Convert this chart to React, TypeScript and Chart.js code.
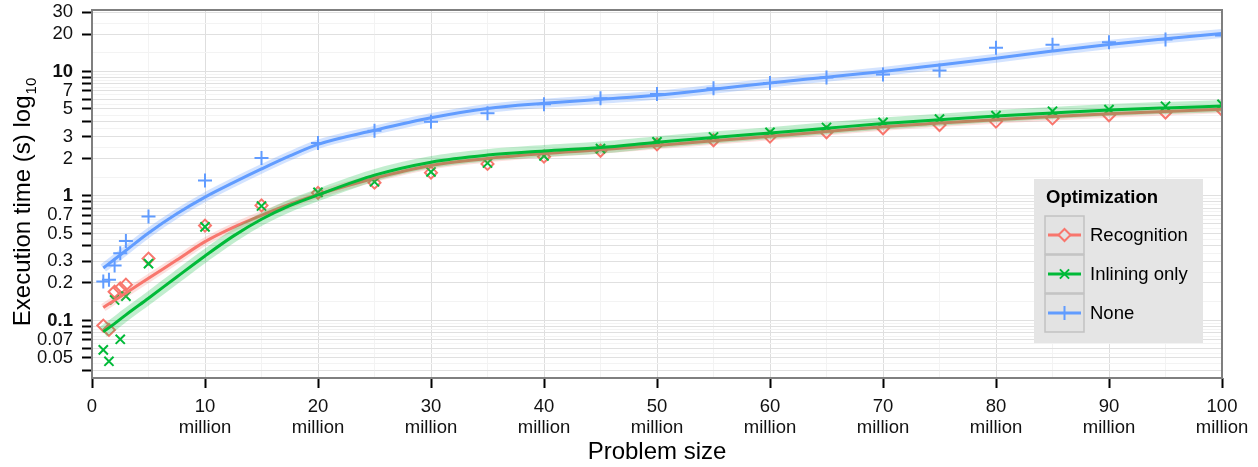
import React, { useEffect, useRef } from 'react';
import { Chart, registerables } from 'chart.js';

Chart.register(...registerables);

const FONT = '"Liberation Sans", Arial, Helvetica, sans-serif';

// ---- Data ----
const problemSizes = [1, 1.5, 2, 2.5, 3, 5, 10, 15, 20, 25, 30, 35, 40, 45, 50, 55, 60, 65, 70, 75, 80, 85, 90, 95, 100];
const recognition = [0.091, 0.084, 0.17, 0.181, 0.194, 0.314, 0.578, 0.84, 1.06, 1.28, 1.54, 1.81, 2.07, 2.31, 2.6, 2.8, 3.0, 3.25, 3.5, 3.72, 3.96, 4.2, 4.45, 4.68, 4.93];
const inliningOnly = [0.058, 0.047, 0.146, 0.0706, 0.157, 0.286, 0.565, 0.83, 1.07, 1.3, 1.56, 1.84, 2.1, 2.4, 2.72, 2.98, 3.25, 3.55, 3.9, 4.15, 4.42, 4.8, 4.95, 5.26, 5.45];
const none = [0.206, 0.212, 0.277, 0.347, 0.435, 0.685, 1.33, 2.02, 2.67, 3.35, 3.95, 4.62, 5.45, 6.09, 6.59, 7.35, 8.1, 8.95, 9.45, 10.2, 15.5, 16.4, 17.2, 18.1, 19.5];

const fitSizes = [1, 2, 3, 5, 7.5, 10, 12.5, 15, 17.5, 20, 25, 30, 35, 40, 45, 50, 55, 60, 65, 70, 75, 80, 85, 90, 95, 100];
const recognitionFit = [0.127, 0.1455, 0.166, 0.218, 0.306, 0.43, 0.56, 0.7, 0.86, 1.03, 1.39, 1.76, 2.0, 2.19, 2.35, 2.55, 2.78, 3.02, 3.3, 3.6, 3.85, 4.1, 4.35, 4.57, 4.78, 4.98];
const inliningFit = [0.081, 0.0944, 0.111, 0.151, 0.2236, 0.33, 0.476, 0.65, 0.836, 1.02, 1.47, 1.87, 2.13, 2.3, 2.45, 2.7, 2.95, 3.2, 3.5, 3.82, 4.1, 4.4, 4.65, 4.9, 5.1, 5.28];
const noneFit = [0.264, 0.31, 0.365, 0.505, 0.72, 0.98, 1.28, 1.65, 2.1, 2.6, 3.37, 4.25, 5.05, 5.55, 5.98, 6.45, 7.2, 8.1, 9.0, 10.0, 11.3, 12.8, 14.6, 16.5, 18.3, 20.2];

const seriesNames = ['Recognition', 'Inlining only', 'None'];

const yTickValues = [0.04, 0.05, 0.06, 0.07, 0.08, 0.09, 0.1, 0.2, 0.3, 0.4, 0.5, 0.6, 0.7, 0.8, 0.9, 1, 2, 3, 4, 5, 6, 7, 8, 9, 10, 20, 30];
const yTickLabels = [0.05, 0.07, 0.1, 0.2, 0.3, 0.5, 0.7, 1, 2, 3, 5, 7, 10, 20, 30];
const yBoldLabels = [0.1, 1, 10];
const xTickValues = [0, 10, 20, 30, 40, 50, 60, 70, 80, 90, 100];
const xMinorValues = [5, 15, 25, 35, 45, 55, 65, 75, 85, 95];

const xTitle = 'Problem size';
const yTitle = 'Execution time (s) log';
const yTitleSub = '10';
const legendTitle = 'Optimization';

// ---- Styles ----
const COLORS = ['#F8766D', '#00BA38', '#619CFF'];
const RIBBONS = ['rgba(248,118,109,0.22)', 'rgba(0,186,56,0.24)', 'rgba(97,156,255,0.28)'];
const RIBBON_W = [8, 12, 9];
const SHAPES = ['rectRot', 'crossRot', 'cross'];
const RADII = [6, 6.5, 7];

const pts = (xs: number[], ys: number[]) => xs.map((x, i) => ({ x, y: ys[i] }));

function buildYTicks() {
  const out: any[] = [];
  for (let i = 0; i < yTickValues.length; i++) {
    out.push({ value: yTickValues[i], isMinor: false });
    if (i < yTickValues.length - 1) {
      out.push({ value: Math.sqrt(yTickValues[i] * yTickValues[i + 1]), isMinor: true });
    }
  }
  return out.sort((a, b) => a.value - b.value);
}

function buildXTicks() {
  const out: any[] = [];
  xTickValues.forEach((v) => out.push({ value: v, isMinor: false }));
  xMinorValues.forEach((v) => out.push({ value: v, isMinor: true }));
  return out.sort((a, b) => a.value - b.value);
}

function drawMarker(ctx: CanvasRenderingContext2D, shape: string, x: number, y: number, r: number) {
  ctx.beginPath();
  if (shape === 'rectRot') {
    ctx.moveTo(x, y - r);
    ctx.lineTo(x + r, y);
    ctx.lineTo(x, y + r);
    ctx.lineTo(x - r, y);
    ctx.closePath();
  } else if (shape === 'crossRot') {
    const d = r * Math.SQRT1_2;
    ctx.moveTo(x - d, y - d);
    ctx.lineTo(x + d, y + d);
    ctx.moveTo(x - d, y + d);
    ctx.lineTo(x + d, y - d);
  } else {
    ctx.moveTo(x - r, y);
    ctx.lineTo(x + r, y);
    ctx.moveTo(x, y - r);
    ctx.lineTo(x, y + r);
  }
  ctx.stroke();
}

const decorPlugin = {
  id: 'decor',
  afterDatasetsDraw(chart: any) {
    const { ctx, chartArea: a } = chart;
    ctx.save();
    ctx.strokeStyle = '#7f7f7f';
    ctx.lineWidth = 2;
    ctx.strokeRect(a.left, a.top, a.right - a.left, a.bottom - a.top);
    ctx.restore();
  },
  afterDraw(chart: any) {
    const { ctx, chartArea: a } = chart;
    ctx.save();
    ctx.fillStyle = '#000';
    ctx.font = `24px ${FONT}`;
    ctx.textAlign = 'center';
    ctx.textBaseline = 'middle';
    ctx.fillText(xTitle, (a.left + a.right) / 2, chart.height - 15);

    ctx.font = `24px ${FONT}`;
    const w1 = ctx.measureText(yTitle).width;
    ctx.font = `15px ${FONT}`;
    const w2 = ctx.measureText(yTitleSub).width;
    ctx.translate(30, (a.top + a.bottom) / 2 + 8);
    ctx.rotate(-Math.PI / 2);
    ctx.textAlign = 'left';
    ctx.textBaseline = 'alphabetic';
    const start = -(w1 + w2 + 1) / 2;
    ctx.font = `24px ${FONT}`;
    ctx.fillText(yTitle, start, 0);
    ctx.font = `15px ${FONT}`;
    ctx.fillText(yTitleSub, start + w1 + 1, 6);
    ctx.restore();

    // Legend
    ctx.save();
    const lx = a.right - 188;
    const ly = a.top + 169;
    const lw = 169;
    const lh = 164;
    ctx.fillStyle = '#e5e5e5';
    ctx.fillRect(lx, ly, lw, lh);
    ctx.fillStyle = '#000';
    ctx.font = `bold 18.5px ${FONT}`;
    ctx.textAlign = 'left';
    ctx.textBaseline = 'middle';
    ctx.fillText(legendTitle, lx + 12, ly + 19);
    seriesNames.forEach((name, i) => {
      const bx = lx + 11;
      const by = ly + 37 + i * 39;
      ctx.fillStyle = '#e3e3e3';
      ctx.fillRect(bx, by, 39, 38);
      ctx.strokeStyle = '#c2c2c2';
      ctx.lineWidth = 1.5;
      ctx.strokeRect(bx, by, 39, 38);
      const cy = by + 19;
      ctx.strokeStyle = COLORS[i];
      ctx.lineWidth = 3;
      ctx.beginPath();
      ctx.moveTo(bx + 3, cy);
      ctx.lineTo(bx + 36, cy);
      ctx.stroke();
      ctx.lineWidth = 2;
      if (SHAPES[i] === 'rectRot') {
        ctx.fillStyle = '#e3e3e3';
        ctx.beginPath();
        ctx.moveTo(bx + 19.5, cy - RADII[i]);
        ctx.lineTo(bx + 19.5 + RADII[i], cy);
        ctx.lineTo(bx + 19.5, cy + RADII[i]);
        ctx.lineTo(bx + 19.5 - RADII[i], cy);
        ctx.closePath();
        ctx.fill();
      }
      drawMarker(ctx, SHAPES[i], bx + 19.5, cy, RADII[i]);
      ctx.fillStyle = '#000';
      ctx.font = `18.5px ${FONT}`;
      ctx.fillText(name, bx + 45, cy + 1);
    });
    ctx.restore();
  },
};

export default function App() {
  const canvasRef = useRef<HTMLCanvasElement | null>(null);

  useEffect(() => {
    const canvas = canvasRef.current;
    if (!canvas) return;
    const pointSets = [recognition, inliningOnly, none];
    const fitSets = [recognitionFit, inliningFit, noneFit];

    const datasets: any[] = [];
    pointSets.forEach((ys, i) => {
      datasets.push({
        label: seriesNames[i] + ' points',
        data: pts(problemSizes, ys),
        showLine: false,
        pointStyle: SHAPES[i],
        pointRadius: RADII[i],
        pointBorderColor: COLORS[i],
        pointBackgroundColor: 'rgba(0,0,0,0)',
        pointBorderWidth: 2,
        order: 100 - i,
      });
    });
    fitSets.forEach((ys, i) => {
      datasets.push({
        label: seriesNames[i] + ' band',
        data: pts(fitSizes, ys),
        showLine: true,
        borderColor: RIBBONS[i],
        borderWidth: RIBBON_W[i],
        pointRadius: 0,
        cubicInterpolationMode: 'monotone',
        fill: false,
        order: 50 - 2 * i,
      });
      datasets.push({
        label: seriesNames[i],
        data: pts(fitSizes, ys),
        showLine: true,
        borderColor: COLORS[i],
        borderWidth: 3,
        pointRadius: 0,
        cubicInterpolationMode: 'monotone',
        fill: false,
        order: 49 - 2 * i,
      });
    });

    const chart = new Chart(canvas, {
      type: 'scatter',
      data: { datasets },
      plugins: [decorPlugin],
      options: {
        animation: false,
        responsive: false,
        devicePixelRatio: 1,
        layout: { padding: { top: 10, right: 36, left: 0, bottom: 0 } },
        plugins: { legend: { display: false }, tooltip: { enabled: false } },
        scales: {
          x: {
            type: 'linear',
            min: 0,
            max: 100,
            afterBuildTicks: (s: any) => {
              s.ticks = buildXTicks();
            },
            afterFit: (s: any) => {
              s.height = 89;
              s.paddingLeft = 0;
              s.paddingRight = 0;
            },
            border: { display: false },
            grid: {
              color: (c: any) => (c.tick && c.tick.isMinor ? '#f3f3f3' : '#dedede'),
              lineWidth: 1,
              tickColor: (c: any) => (c.tick && c.tick.isMinor ? 'rgba(0,0,0,0)' : '#000'),
              tickWidth: 2,
              tickLength: 10,
              drawTicks: true,
            },
            ticks: {
              autoSkip: false,
              maxRotation: 0,
              minRotation: 0,
              padding: 9,
              color: '#111',
              font: { family: FONT, size: 18.5, lineHeight: 1.1 },
              callback: (v: any) => {
                if (!xTickValues.includes(v)) return '';
                return v === 0 ? '0' : [String(v), 'million'];
              },
            },
          },
          y: {
            type: 'logarithmic',
            min: 0.0345,
            max: 31.2,
            afterBuildTicks: (s: any) => {
              s.ticks = buildYTicks();
            },
            afterFit: (s: any) => {
              s.width = 92;
              s.paddingTop = 0;
              s.paddingBottom = 0;
            },
            border: { display: false },
            grid: {
              color: (c: any) => (c.tick && c.tick.isMinor ? '#f3f3f3' : '#e0e0e0'),
              lineWidth: 1,
              tickColor: (c: any) => (c.tick && c.tick.isMinor ? 'rgba(0,0,0,0)' : '#000'),
              tickWidth: 2,
              tickLength: 10,
              drawTicks: true,
            },
            ticks: {
              autoSkip: false,
              padding: 9,
              color: '#111',
              font: (c: any) => ({
                family: FONT,
                size: 18.5,
                lineHeight: 1.1,
                weight: c.tick && yBoldLabels.includes(c.tick.value) ? 'bold' : 'normal',
              }),
              callback: (v: any) => (yTickLabels.includes(v) ? String(v) : ''),
            },
          },
        },
      } as any,
    });
    return () => chart.destroy();
  }, []);

  return (
    <div style={{ position: 'absolute', left: 0, top: 0, width: 1258, height: 467, background: '#fff' }}>
      <canvas ref={canvasRef} width={1258} height={467} style={{ display: 'block' }} />
    </div>
  );
}
